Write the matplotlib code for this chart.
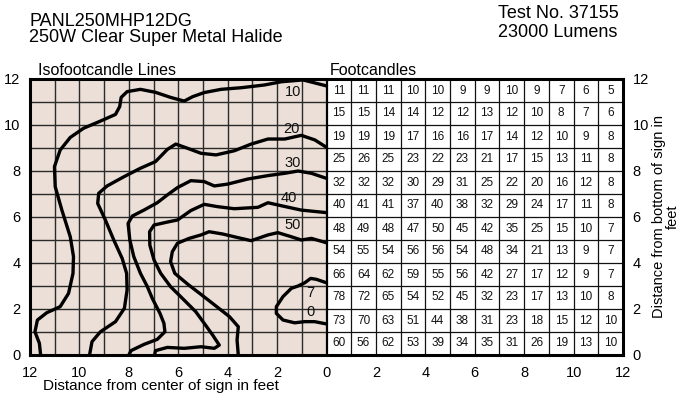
import matplotlib.pyplot as plt
import numpy as np

plt.rcParams['font.family'] = ['Liberation Sans', 'DejaVu Sans']

W, H = 695, 405

# footcandle table, top row (10-12 ft) first, columns 0-1 ft ... 11-12 ft
footcandles = [
    [11, 11, 11, 10, 10, 9, 9, 10, 9, 7, 6, 5],
    [15, 15, 14, 14, 12, 12, 13, 12, 10, 8, 7, 6],
    [19, 19, 19, 17, 16, 16, 17, 14, 12, 10, 9, 8],
    [25, 26, 25, 23, 22, 23, 21, 17, 15, 13, 11, 8],
    [32, 32, 32, 30, 29, 31, 25, 22, 20, 16, 12, 8],
    [40, 41, 41, 37, 40, 38, 32, 29, 24, 17, 11, 8],
    [48, 49, 48, 47, 50, 45, 42, 35, 25, 15, 10, 7],
    [54, 55, 54, 56, 56, 54, 48, 34, 21, 13, 9, 7],
    [66, 64, 62, 59, 55, 56, 42, 27, 17, 12, 9, 7],
    [78, 72, 65, 54, 52, 45, 32, 23, 17, 13, 10, 8],
    [73, 70, 63, 51, 44, 38, 31, 23, 18, 15, 12, 10],
    [60, 56, 62, 53, 39, 34, 35, 31, 26, 19, 13, 10],
]

# isofootcandle lines: distance from center (ft, to the left), height (ft)
iso10_x = [11.57, 11.62, 11.80, 11.70, 11.32, 10.78, 10.44, 10.26, 10.24, 10.37, 10.71,
           10.98, 11.01, 10.78, 10.37, 9.83, 9.15, 8.54, 8.37, 8.31, 8.07, 7.53, 6.92,
           6.31, 5.76, 5.42, 4.95, 4.27, 3.46, 2.51, 1.83, 0.95, 0.0]
iso10_y = [0.0, 0.51, 1.01, 1.52, 1.84, 2.10, 2.68, 3.55, 4.28, 5.14, 6.30,
           7.32, 8.19, 8.91, 9.46, 9.86, 10.17, 10.46, 10.80, 11.20, 11.45, 11.55, 11.42,
           11.20, 11.04, 11.23, 11.41, 11.55, 11.62, 11.74, 11.88, 11.96, 11.70]

iso20_x = [9.59, 9.49, 9.15, 8.54, 8.18, 8.07, 8.09, 8.27, 8.61, 8.95, 9.26, 9.22, 8.88,
           8.20, 7.53, 6.92, 6.44, 6.10, 5.63, 5.08, 4.47, 3.73, 3.05, 2.37, 1.69, 1.02,
           0.47, 0.0]
iso20_y = [0.0, 0.58, 1.01, 1.45, 2.03, 2.83, 3.55, 4.20, 5.00, 5.87, 6.59, 7.03, 7.35,
           7.75, 8.12, 8.41, 8.94, 9.17, 8.99, 8.77, 8.70, 8.88, 9.17, 9.39, 9.39, 9.55,
           9.35, 9.03]

iso30_x = [8.0, 7.91, 7.39, 6.85, 6.54, 6.58, 6.74, 7.05, 7.25, 7.53, 7.80, 7.96, 8.03,
           7.86, 7.39, 6.85, 6.44, 6.03, 5.49, 4.95, 4.54, 4.0, 3.19, 2.37, 1.69, 1.15,
           0.61, 0.0]
iso30_y = [0.0, 0.19, 0.46, 0.68, 1.01, 1.38, 1.81, 2.46, 2.97, 3.55, 4.28, 5.00, 5.72,
           6.04, 6.30, 6.62, 6.96, 7.28, 7.58, 7.54, 7.35, 7.43, 7.65, 7.80, 7.90, 8.0,
           7.90, 7.68]

iso40_x = [6.96, 6.92, 6.44, 5.76, 5.08, 4.54, 4.34, 4.61, 4.95, 5.29, 5.83, 6.31, 6.71,
           6.98, 7.15, 7.16, 6.98, 6.44, 6.03, 5.49, 4.95, 4.41, 3.73, 2.78, 2.37, 1.83,
           1.02, 0.0]
iso40_y = [0.0, 0.19, 0.33, 0.29, 0.36, 0.29, 0.43, 0.87, 1.38, 1.88, 2.46, 2.97, 3.55,
           4.13, 4.78, 5.36, 5.65, 5.78, 5.87, 6.28, 6.55, 6.45, 6.36, 6.42, 6.62, 6.49,
           6.30, 6.19]

iso50_x = [3.57, 3.62, 3.57, 3.93, 4.75, 5.63, 6.14, 6.31, 6.24, 6.03, 5.56, 5.08, 4.75,
           4.20, 3.73, 3.05, 2.37, 1.97, 1.42, 1.02, 0.61, 0.0]
iso50_y = [0.0, 0.65, 1.23, 1.67, 2.36, 3.09, 3.55, 4.06, 4.49, 4.86, 5.07, 5.22, 5.36,
           5.26, 5.14, 4.97, 5.22, 5.32, 5.14, 5.00, 5.07, 4.88]

iso70_x = [0.0, 0.41, 0.64, 0.88, 1.15, 1.42, 1.76, 2.03, 2.03, 1.76, 1.29, 0.88, 0.48, 0.0]
iso70_y = [3.14, 3.29, 3.33, 3.14, 3.00, 2.90, 2.54, 2.10, 1.81, 1.52, 1.40, 1.45, 1.45, 1.35]

iso_labels = ['10', '20', '30', '40', '50', '7', '0']
label_x = [1.35, 1.42, 1.35, 1.53, 1.38, 0.64, 0.64]
label_y = [11.42, 9.83, 8.33, 6.81, 5.65, 2.68, 1.88]

beige = '#ebdfd7'

fig = plt.figure(figsize=(W / 100, H / 100), dpi=100)
ax = fig.add_axes([30 / W, 1 - 355 / H, (623 - 30) / W, (355 - 79) / H])
ax.set_xlim(-12, 12)
ax.set_ylim(0, 12)

# left panel background and grid
ax.axvspan(-12, 0, color=beige, zorder=0, lw=0)
for i in range(1, 12):
    ax.plot([-i, -i], [0, 12], color='#2a2a2a', lw=1.0, zorder=1)
    ax.plot([i, i], [0, 12], color='#111111', lw=0.9, zorder=1)
    ax.plot([-12, 0], [i, i], color='#2a2a2a', lw=1.0, zorder=1)
    ax.plot([0, 12], [i, i], color='#111111', lw=0.9, zorder=1)
ax.plot([0, 0], [0, 12], color='black', lw=1.6, zorder=3)

# table of footcandles
nrows = len(footcandles)
for r, row in enumerate(footcandles):
    for c, val in enumerate(row):
        ax.text(c + 0.5, nrows - r - 0.5, str(val), ha='center', va='center',
                fontsize=8.5, color='#111111')

# isofootcandle lines
for xs, ys in [(iso10_x, iso10_y), (iso20_x, iso20_y), (iso30_x, iso30_y),
               (iso40_x, iso40_y), (iso50_x, iso50_y), (iso70_x, iso70_y)]:
    ax.plot(-np.array(xs), ys, color='black', lw=2.4, zorder=4,
            solid_joinstyle='round', solid_capstyle='round')

for lab, lx, ly in zip(iso_labels, label_x, label_y):
    ax.text(-lx, ly, lab, ha='center', va='center', fontsize=10.5, color='#111111', zorder=5)

for s in ax.spines.values():
    s.set_linewidth(2.2)
    s.set_zorder(6)

xt = list(range(-12, 13, 2))
ax.set_xticks(xt)
ax.set_xticklabels([str(abs(v)) for v in xt])
ax.set_yticks(range(0, 13, 2))
ax.tick_params(axis='x', length=0, labelsize=10.5, pad=8)
ax.tick_params(axis='y', length=0, labelsize=10.5, pad=7, right=True, labelright=True)

def px(x, y):
    return x / W, 1 - y / H

fig.text(*px(29, 25.5), 'PANL250MHP12DG', fontsize=13, va='baseline')
fig.text(*px(29, 42), '250W Clear Super Metal Halide', fontsize=13, va='baseline')
fig.text(*px(558, 18), 'Test No. 37155', fontsize=13, va='baseline', ha='center')
fig.text(*px(558, 37), '23000 Lumens', fontsize=13, va='baseline', ha='center')
fig.text(*px(38, 75), 'Isofootcandle Lines', fontsize=11.5, va='baseline')
fig.text(*px(330, 75), 'Footcandles', fontsize=11.5, va='baseline')
fig.text(*px(43, 386), 'Distance from center of sign in feet', fontsize=11, va='center')
fig.text(*px(666, 217), 'Distance from bottom of sign in\nfeet', fontsize=10.5,
         rotation=90, ha='center', va='center', multialignment='center', linespacing=1.0)

fig.savefig('out.png', dpi=100)
